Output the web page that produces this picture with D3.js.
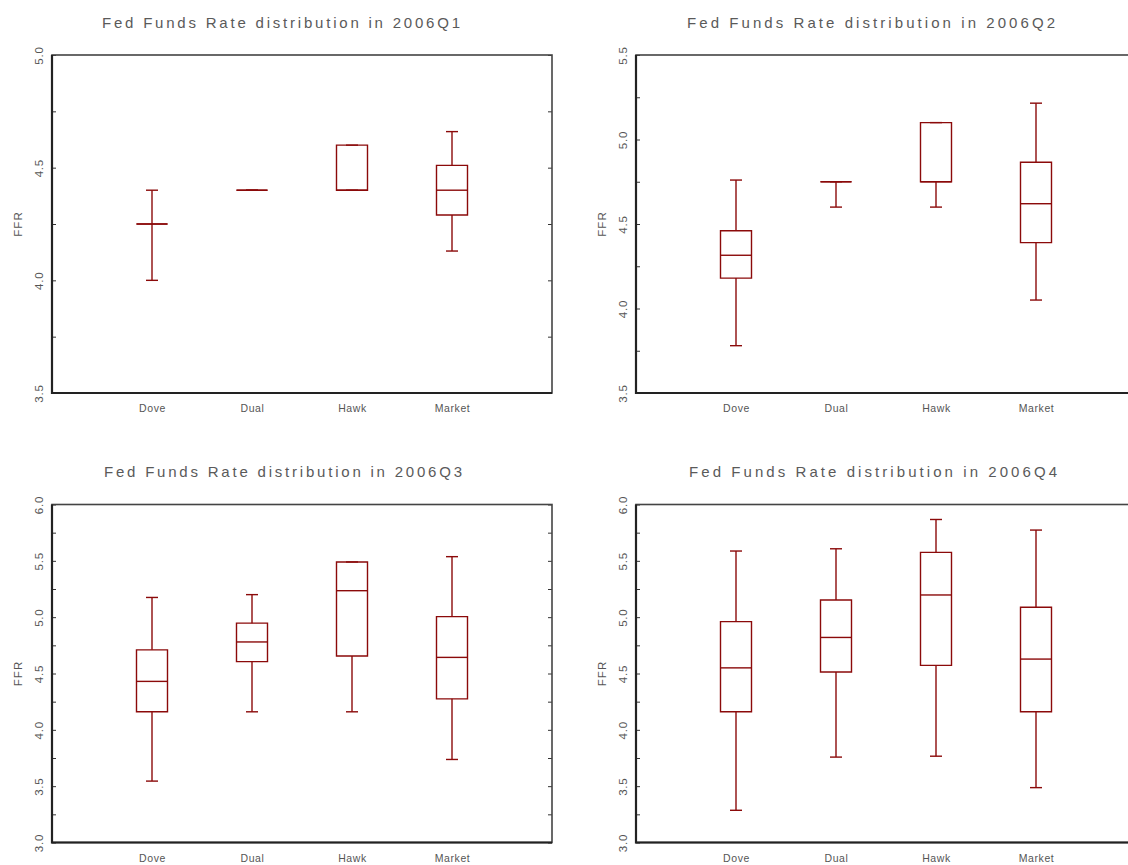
<!DOCTYPE html>
<html>
<head>
<meta charset="utf-8">
<script src="https://cdn.jsdelivr.net/npm/d3@7"></script>
<style>
  html, body { margin: 0; padding: 0; background: #fff; }
  svg { display: block; }
  text { font-family: "Liberation Sans", Arial, sans-serif; fill: #555; }
</style>
</head>
<body>
<svg id="chart" width="1128" height="865"></svg>
<script>
// ---------------- data ----------------
const categories = ["Dove", "Dual", "Hawk", "Market"];
const quarters = ["2006Q1", "2006Q2", "2006Q3", "2006Q4"];
const titles = quarters.map(q => "Fed Funds Rate distribution in " + q);
const yLabel = "FFR";

// y-axis ranges per panel
const yDomains = [[3.5, 5.0], [3.5, 5.5], [3.0, 6.0], [3.0, 6.0]];

// five-number rows per category: [lower whisker, Q1, median, Q3, upper whisker]
const stats2006Q1 = [
  [4.00, 4.25, 4.25, 4.25, 4.40],
  [4.40, 4.40, 4.40, 4.40, 4.40],
  [4.40, 4.40, 4.40, 4.60, 4.60],
  [4.13, 4.29, 4.40, 4.51, 4.66]
];
const stats2006Q2 = [
  [3.78, 4.18, 4.315, 4.46, 4.76],
  [4.60, 4.75, 4.75, 4.75, 4.75],
  [4.60, 4.75, 4.75, 5.10, 5.10],
  [4.05, 4.39, 4.62, 4.865, 5.215]
];
const stats2006Q3 = [
  [3.545, 4.16, 4.43, 4.71, 5.175],
  [4.16, 4.605, 4.78, 4.947, 5.20],
  [4.16, 4.655, 5.235, 5.49, 5.49],
  [3.737, 4.275, 4.643, 5.005, 5.537]
];
const stats2006Q4 = [
  [3.286, 4.16, 4.55, 4.96, 5.587],
  [3.758, 4.513, 4.82, 5.153, 5.607],
  [3.766, 4.572, 5.197, 5.575, 5.867],
  [3.487, 4.16, 4.628, 5.088, 5.773]
];
const allStats = [stats2006Q1, stats2006Q2, stats2006Q3, stats2006Q4];

// ---------------- layout ----------------
const svg = d3.select("#chart");
const plotW = 500, plotH = 338;
const origins = [[52, 55], [636, 55], [52, 504.5], [636, 504.5]];
const titleCenters = [[281, 27.5], [871, 27.5], [283, 476.5], [873, 476.5]];
const titleWidths = [358, 368, 358, 368];
const boxHalf = 15.5, capHalf = 6;
const markColor = "#8b0a0a";

allStats.forEach((stats, i) => {
  const [ox, oy] = origins[i];
  const dom = yDomains[i];
  const g = svg.append("g").attr("transform", `translate(${ox},${oy})`);

  const y = d3.scaleLinear().domain(dom).range([plotH, 0]);
  const x = d3.scalePoint().domain(categories).range([0, plotW]).padding(1);

  const majors = d3.range(dom[0], dom[1] + 1e-9, 0.5);
  const minors = d3.range(dom[0] + 0.25, dom[1], 0.5);

  // title
  svg.append("text")
    .attr("x", titleCenters[i][0]).attr("y", titleCenters[i][1])
    .attr("text-anchor", "middle")
    .attr("font-size", 15)
    .attr("font-family", "DejaVu Sans, sans-serif")
    .attr("textLength", titleWidths[i])
    .attr("lengthAdjust", "spacing")
    .style("fill", "#5a5a5a")
    .text(titles[i]);

  // left axis (major, labelled)
  const left = g.append("g").call(
    d3.axisLeft(y).tickValues(majors).tickSize(-4).tickFormat(d3.format(".1f"))
  );
  left.select(".domain").remove();
  left.selectAll("line").attr("stroke", "#333").attr("stroke-width", 1);
  left.selectAll("text")
    .attr("x", 0).attr("dy", null).attr("y", 0)
    .attr("text-anchor", "middle")
    .attr("transform", "translate(-9,0) rotate(-90)")
    .attr("font-size", 11.5)
    .attr("letter-spacing", 0.8)
    .attr("font-family", "Liberation Sans, Arial, sans-serif")
    .style("fill", "#555");

  // left axis minors
  const leftMin = g.append("g").call(
    d3.axisLeft(y).tickValues(minors).tickSize(-4).tickFormat("")
  );
  leftMin.select(".domain").remove();
  leftMin.selectAll("line").attr("stroke", "#333").attr("stroke-width", 1);

  // right axis mirrored ticks
  const right = g.append("g").attr("transform", `translate(${plotW},0)`).call(
    d3.axisRight(y).tickValues(majors.concat(minors)).tickSize(-4).tickFormat("")
  );
  right.select(".domain").remove();
  right.selectAll("line").attr("stroke", "#333").attr("stroke-width", 1);

  // category labels
  const bottom = g.append("g").attr("transform", `translate(0,${plotH})`).call(
    d3.axisBottom(x).tickSize(0).tickPadding(0)
  );
  bottom.select(".domain").remove();
  bottom.selectAll("text")
    .attr("y", 19).attr("dy", null)
    .attr("font-size", 10.5)
    .attr("letter-spacing", 0.6)
    .attr("font-family", "DejaVu Sans, sans-serif")
    .style("fill", "#555");

  // y label
  g.append("text")
    .attr("transform", `translate(-30,${plotH / 2}) rotate(-90)`)
    .attr("text-anchor", "middle")
    .attr("font-size", 11.5)
    .attr("letter-spacing", 1)
    .text(yLabel);

  // frame
  g.append("rect")
    .attr("x", 0).attr("y", 0).attr("width", plotW).attr("height", plotH)
    .attr("fill", "none").attr("stroke", "#444").attr("stroke-width", 1.6);
  g.append("path")
    .attr("d", `M0,0V${plotH}H${plotW}`)
    .attr("fill", "none").attr("stroke", "#222").attr("stroke-width", 2.2);

  // boxplots
  const boxes = g.selectAll(".box").data(stats).join("g")
    .attr("class", "box")
    .attr("transform", (d, j) => `translate(${x(categories[j])},0)`)
    .attr("stroke", markColor).attr("stroke-width", 1.4).attr("fill", "none");

  // whiskers
  boxes.append("line").attr("x1", 0).attr("x2", 0)
    .attr("y1", d => y(d[0])).attr("y2", d => y(d[1]));
  boxes.append("line").attr("x1", 0).attr("x2", 0)
    .attr("y1", d => y(d[3])).attr("y2", d => y(d[4]));
  // caps
  boxes.append("line").attr("x1", -capHalf).attr("x2", capHalf)
    .attr("y1", d => y(d[0])).attr("y2", d => y(d[0]));
  boxes.append("line").attr("x1", -capHalf).attr("x2", capHalf)
    .attr("y1", d => y(d[4])).attr("y2", d => y(d[4]));
  // box
  boxes.append("path")
    .attr("d", d => `M${-boxHalf},${y(d[3])}H${boxHalf}V${y(d[1])}H${-boxHalf}Z`);
  // median
  boxes.append("line").attr("x1", -boxHalf).attr("x2", boxHalf)
    .attr("y1", d => y(d[2])).attr("y2", d => y(d[2]));
});
</script>
</body>
</html>
